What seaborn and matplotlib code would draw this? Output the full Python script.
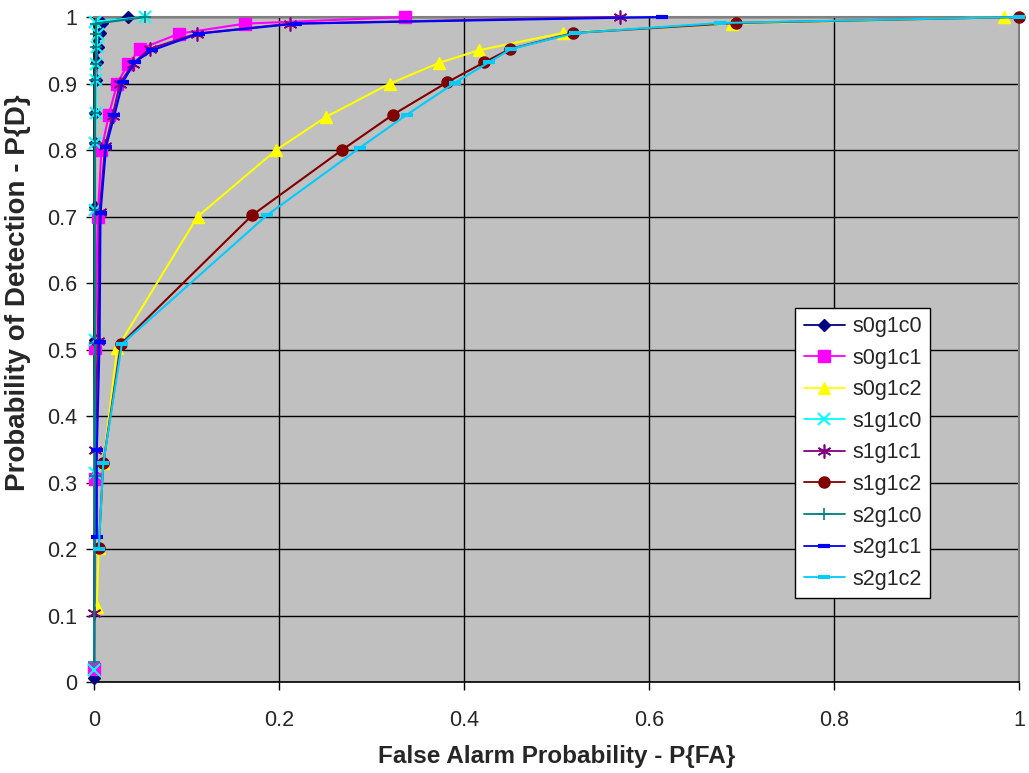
import matplotlib
matplotlib.use("Agg")
import matplotlib.pyplot as plt
import seaborn as sns
import pandas as pd

# ROC points (false alarm probability, detection probability) per configuration
s0g1c0_fa = [0.0, 0.0005, 0.001, 0.001, 0.001, 0.001, 0.002, 0.003, 0.004, 0.006, 0.009, 0.037]
s0g1c0_pd = [0.006, 0.31, 0.515, 0.715, 0.81, 0.855, 0.905, 0.932, 0.955, 0.976, 0.991, 1.0]

s0g1c1_fa = [0.0, 0.0005, 0.001, 0.004, 0.008, 0.016, 0.025, 0.037, 0.05, 0.092, 0.163, 0.336]
s0g1c1_pd = [0.02, 0.305, 0.502, 0.70, 0.80, 0.853, 0.90, 0.93, 0.952, 0.975, 0.99, 1.0]

s0g1c2_fa = [0.003, 0.005, 0.01, 0.025, 0.112, 0.197, 0.251, 0.32, 0.373, 0.416, 0.507, 0.69, 0.984]
s0g1c2_pd = [0.113, 0.201, 0.329, 0.502, 0.70, 0.80, 0.85, 0.90, 0.931, 0.95, 0.976, 0.99, 1.0]

s1g1c0_fa = [0.0, 0.0005, 0.001, 0.001, 0.001, 0.002, 0.002, 0.002, 0.003, 0.004, 0.001, 0.055]
s1g1c0_pd = [0.018, 0.315, 0.515, 0.71, 0.81, 0.855, 0.905, 0.93, 0.955, 0.975, 0.993, 1.0]

s1g1c1_fa = [0.0, 0.001, 0.004, 0.006, 0.012, 0.02, 0.028, 0.042, 0.06, 0.111, 0.212, 0.569]
s1g1c1_pd = [0.104, 0.349, 0.513, 0.707, 0.806, 0.851, 0.90, 0.93, 0.952, 0.975, 0.99, 1.0]

s1g1c2_fa = [0.005, 0.01, 0.029, 0.171, 0.268, 0.323, 0.382, 0.422, 0.45, 0.518, 0.694, 1.0]
s1g1c2_pd = [0.201, 0.329, 0.508, 0.702, 0.80, 0.853, 0.902, 0.932, 0.952, 0.976, 0.991, 1.0]

s2g1c0_fa = [0.0, 0.001, 0.001, 0.001, 0.001, 0.001, 0.001, 0.002, 0.002, 0.002, 0.002, 0.055]
s2g1c0_pd = [0.03, 0.31, 0.51, 0.71, 0.81, 0.855, 0.905, 0.93, 0.955, 0.975, 0.99, 1.0]

s2g1c1_fa = [0.003, 0.003, 0.006, 0.007, 0.013, 0.022, 0.031, 0.044, 0.063, 0.113, 0.218, 0.614]
s2g1c1_pd = [0.218, 0.349, 0.512, 0.705, 0.805, 0.852, 0.902, 0.932, 0.95, 0.975, 0.99, 1.0]

s2g1c2_fa = [0.005, 0.01, 0.03, 0.187, 0.287, 0.338, 0.39, 0.427, 0.451, 0.52, 0.677, 1.0]
s2g1c2_pd = [0.20, 0.329, 0.508, 0.702, 0.803, 0.853, 0.901, 0.932, 0.952, 0.976, 0.991, 1.0]

series_names = ["s0g1c0", "s0g1c1", "s0g1c2", "s1g1c0", "s1g1c1",
                "s1g1c2", "s2g1c0", "s2g1c1", "s2g1c2"]
series_fa = [s0g1c0_fa, s0g1c1_fa, s0g1c2_fa, s1g1c0_fa, s1g1c1_fa,
             s1g1c2_fa, s2g1c0_fa, s2g1c1_fa, s2g1c2_fa]
series_pd = [s0g1c0_pd, s0g1c1_pd, s0g1c2_pd, s1g1c0_pd, s1g1c1_pd,
             s1g1c2_pd, s2g1c0_pd, s2g1c1_pd, s2g1c2_pd]

x_ticks = [0, 0.2, 0.4, 0.6, 0.8, 1]
y_ticks = [0, 0.1, 0.2, 0.3, 0.4, 0.5, 0.6, 0.7, 0.8, 0.9, 1]

# line colour, marker, marker size, marker edge width
styles = {
    "s0g1c0": ("#000080", "D", 6, 1.0),
    "s0g1c1": ("#FF00FF", "s", 8, 1.0),
    "s0g1c2": ("#FFFF00", "^", 8, 1.0),
    "s1g1c0": ("#00FFFF", "x", 8, 1.5),
    "s1g1c1": ("#800080", (6, 2, 0), 10, 1.2),
    "s1g1c2": ("#800000", "o", 8, 1.0),
    "s2g1c0": ("#008080", "+", 9, 1.2),
    "s2g1c1": ("#0000FF", "_", 9, 3.0),
    "s2g1c2": ("#00CCFF", "_", 9, 3.0),
}

sns.set_style("white")
plt.rcParams["font.family"] = ["Liberation Sans", "DejaVu Sans"]

fig = plt.figure(figsize=(10.29, 7.73), dpi=100)
ax = fig.add_axes([0.0914, 0.1177, 0.8989, 0.8603])
ax.set_facecolor("#C0C0C0")

for name, fa, pdet in zip(series_names, series_fa, series_pd):
    color, marker, ms, mew = styles[name]
    df = pd.DataFrame({"fa": fa, "pd": pdet})
    sns.lineplot(data=df, x="fa", y="pd", ax=ax, sort=False, estimator=None,
                 color=color, linewidth=1.5, marker=marker, markersize=ms,
                 markeredgewidth=mew, markeredgecolor=color,
                 markerfacecolor=color, label=name, clip_on=False, zorder=3)

ax.set_xlim(0, 1)
ax.set_ylim(0, 1)
ax.set_xticks(x_ticks)
ax.set_yticks(y_ticks)
ax.set_xticklabels([f"{t:g}" for t in x_ticks], fontsize=15.5)
ax.set_yticklabels([f"{t:g}" for t in y_ticks], fontsize=15.5)
ax.tick_params(axis="both", direction="out", length=6, width=1, color="black",
               bottom=True, left=True)
ax.tick_params(axis="x", pad=14)
ax.tick_params(axis="y", pad=6)
ax.grid(True, color="black", linewidth=1.0)
ax.set_axisbelow(True)

for side in ("left", "bottom"):
    ax.spines[side].set_color("black")
    ax.spines[side].set_linewidth(1.2)
for side in ("top", "right"):
    ax.spines[side].set_visible(True)
    ax.spines[side].set_color("#808080")
    ax.spines[side].set_linewidth(1.5)

ax.set_xlabel("False Alarm Probability - P{FA}", fontsize=17.5, fontweight="bold",
              labelpad=10)
ax.set_ylabel("Probability of Detection - P{D}", fontsize=20, fontweight="bold")
ax.yaxis.set_label_coords(-0.068, 0.585)

leg = ax.legend(loc="upper left", bbox_to_anchor=(0.758, 0.563), fontsize=15.5,
                frameon=True, fancybox=False, framealpha=1, edgecolor="black",
                handlelength=1.9, handletextpad=0.35, labelspacing=0.49,
                borderpad=0.4, borderaxespad=0)
leg.get_frame().set_linewidth(1.0)
for h in leg.legend_handles:
    h.set_linewidth(1.3)

fig.savefig("out.png", dpi=100)
